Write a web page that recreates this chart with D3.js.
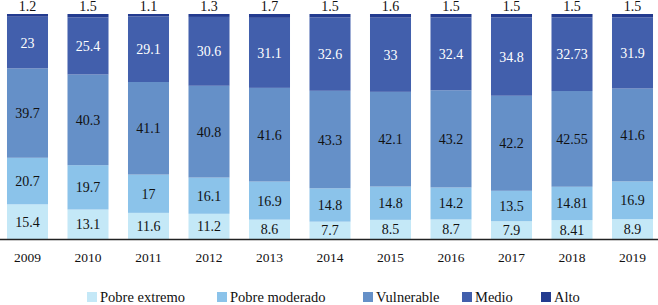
<!DOCTYPE html>
<html lang="es">
<head>
  <meta charset="UTF-8">
  <title>estratos</title>
  <style>
    body { margin: 0; background: #fff; }
    text { font-family: "Liberation Serif", "DejaVu Serif", serif; }
  </style>
</head>
<body>
<script src="https://cdn.jsdelivr.net/npm/d3@7"></script>
<script>
  var years = ["2009","2010","2011","2012","2013","2014","2015","2016","2017","2018","2019"];
  var pobreExtremo  = [15.4, 13.1, 11.6, 11.2, 8.6, 7.7, 8.5, 8.7, 7.9, 8.41, 8.9];
  var pobreModerado = [20.7, 19.7, 17, 16.1, 16.9, 14.8, 14.8, 14.2, 13.5, 14.81, 16.9];
  var vulnerable    = [39.7, 40.3, 41.1, 40.8, 41.6, 43.3, 42.1, 43.2, 42.2, 42.55, 41.6];
  var medio         = [23, 25.4, 29.1, 30.6, 31.1, 32.6, 33, 32.4, 34.8, 32.73, 31.9];
  var alto          = [1.2, 1.5, 1.1, 1.3, 1.7, 1.5, 1.6, 1.5, 1.5, 1.5, 1.5];
  var seriesNames = ["Pobre extremo", "Pobre moderado", "Vulnerable", "Medio", "Alto"];

  var colors = ["#c4e8f7", "#8bc3ea", "#6590c8", "#425fac", "#233b8f"];
  var textColors = ["#111", "#111", "#111", "#fff", "#111"];

  var width = 658, height = 305;
  var plotTop = 14, plotBottom = 239;

  var table = years.map(function(y, i){
    return {year: y, "Pobre extremo": pobreExtremo[i], "Pobre moderado": pobreModerado[i],
            "Vulnerable": vulnerable[i], "Medio": medio[i], "Alto": alto[i]};
  });

  var stack = d3.stack().keys(seriesNames).offset(d3.stackOffsetExpand);
  var layers = stack(table);

  var x = d3.scaleBand()
    .domain(years)
    .range([-2.75, 662.75])
    .paddingInner(0.322)
    .paddingOuter(0.161);
  var y = d3.scaleLinear().domain([0, 1]).range([plotBottom, plotTop]);

  var svg = d3.select("body").append("svg")
    .attr("width", width)
    .attr("height", height);

  var g = svg.selectAll(".layer")
    .data(layers)
    .enter().append("g")
    .attr("class", "layer")
    .attr("fill", function(d, i){ return colors[i]; });

  g.selectAll("rect")
    .data(function(d){ return d; })
    .enter().append("rect")
    .attr("x", function(d){ return x(d.data.year); })
    .attr("width", x.bandwidth())
    .attr("y", function(d){ return y(d[1]); })
    .attr("height", function(d){ return y(d[0]) - y(d[1]); });

  // value labels
  layers.forEach(function(layer, li){
    svg.append("g").selectAll("text")
      .data(layer)
      .enter().append("text")
      .attr("x", function(d){ return x(d.data.year) + x.bandwidth() / 2; })
      .attr("y", function(d){
        if (li === 4) return y(d[1]) - 3;
        return (y(d[0]) + y(d[1])) / 2 + 5;
      })
      .attr("text-anchor", "middle")
      .attr("font-size", 14)
      .attr("fill", textColors[li])
      .text(function(d){ return d.data[layer.key]; });
  });

  // baseline
  svg.append("line")
    .attr("x1", 0).attr("x2", width)
    .attr("y1", plotBottom + 0.5).attr("y2", plotBottom + 0.5)
    .attr("stroke", "#222")
    .attr("stroke-width", 1.5);

  var xAxis = svg.append("g")
    .attr("transform", "translate(0," + plotBottom + ")")
    .call(d3.axisBottom(x).tickSize(0).tickPadding(13));
  xAxis.select(".domain").remove();
  xAxis.selectAll("text")
    .attr("font-size", 13.5)
    .attr("fill", "#111")
    .style("font-family", "'Liberation Serif', serif");

  // legend
  var legendX = [87, 217, 363, 462, 541];
  var legend = svg.append("g").selectAll("g")
    .data(seriesNames)
    .enter().append("g")
    .attr("transform", function(d, i){ return "translate(" + legendX[i] + ",292)"; });
  legend.append("rect")
    .attr("width", 10).attr("height", 10)
    .attr("fill", function(d, i){ return colors[i]; });
  legend.append("text")
    .attr("x", 13).attr("y", 10)
    .attr("font-size", 14.5)
    .attr("fill", "#111")
    .text(function(d){ return d; });
</script>
</body>
</html>
